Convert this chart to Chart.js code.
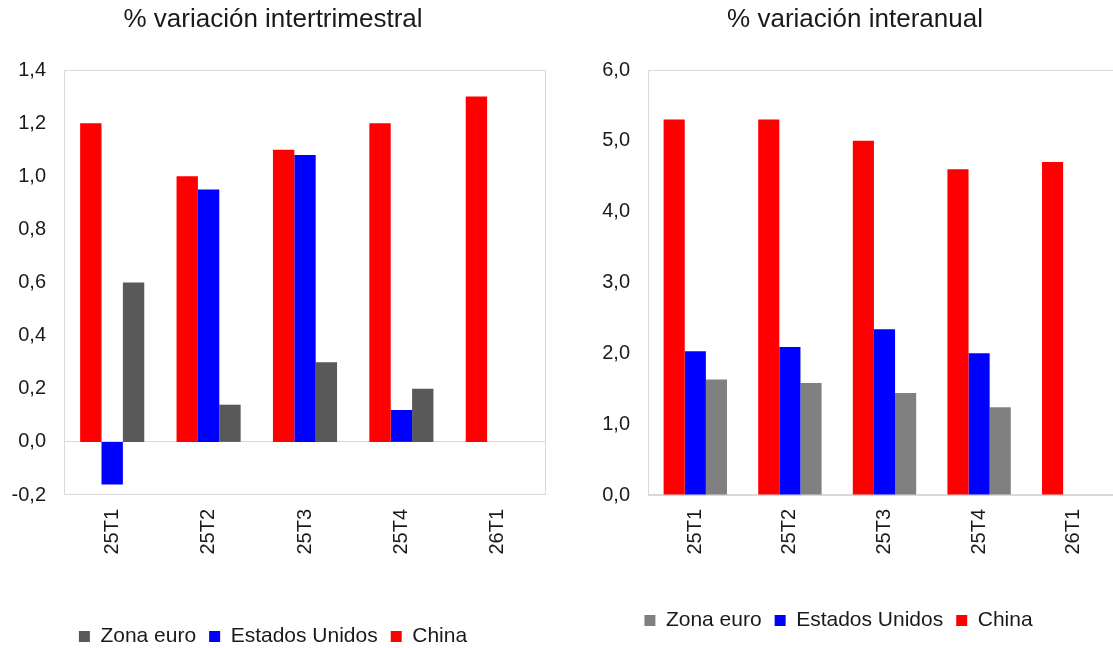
<!DOCTYPE html>
<html lang="es">
<head>
<meta charset="utf-8">
<title>Crecimiento del PIB</title>
<script src="https://cdn.jsdelivr.net/npm/chart.js@4.4.1/dist/chart.umd.min.js"></script>
<style>
  html, body { margin: 0; padding: 0; background: #ffffff; overflow: hidden; }
  body { position: relative; width: 1113px; height: 648px; }
  canvas { position: absolute; top: 0; }
  #qoq { left: 0; }
  #yoy { left: 556px; }
</style>
</head>
<body>
<canvas id="qoq" width="556" height="648"></canvas>
<canvas id="yoy" width="570" height="648"></canvas>
<script>
// Trimestres
const categories = ['25T1', '25T2', '25T3', '25T4', '26T1'];

// % variación intertrimestral
const qoqChina = [1.2, 1.0, 1.1, 1.2, 1.3];
const qoqUS    = [-0.16, 0.95, 1.08, 0.12, null];
const qoqEuro  = [0.6, 0.14, 0.3, 0.2, null];

// % variación interanual
const yoyChina = [5.3, 5.3, 5.0, 4.6, 4.7];
const yoyUS    = [2.03, 2.09, 2.34, 2.0, null];
const yoyEuro  = [1.63, 1.58, 1.44, 1.24, null];

const FONT = "'Liberation Sans', Arial, sans-serif";
const TEXT = '#1a1a1a';
const FRAME = '#d9d9d9';

Chart.defaults.font.family = FONT;
Chart.defaults.color = TEXT;

const fmt = v => (Math.abs(v) < 1e-9 ? 0 : v).toFixed(1).replace('.', ',');

// Draws the plot frame and fine-tunes title / legend placement after layout
const frameAndNudge = {
  id: 'frameAndNudge',
  afterLayout(chart, args, opts) {
    if (opts.titleDx && chart.titleBlock) {
      chart.titleBlock.left += opts.titleDx;
      chart.titleBlock.right += opts.titleDx;
    }
    if (opts.legendDy && chart.legend) {
      chart.legend.top += opts.legendDy;
      chart.legend.bottom += opts.legendDy;
    }
  },
  beforeDatasetsDraw(chart, args, opts) {
    const { ctx, chartArea: a } = chart;
    ctx.save();
    ctx.strokeStyle = opts.color || FRAME;
    ctx.lineWidth = 1;
    ctx.strokeRect(a.left + 0.5, a.top + 0.5, a.right - a.left - 1, a.bottom - a.top - 1);
    ctx.restore();
  }
};

function makeChart(id, cfg) {
  return new Chart(document.getElementById(id), {
    type: 'bar',
    data: {
      labels: categories,
      datasets: [
        { label: 'China', data: cfg.china, backgroundColor: '#ff0000' },
        { label: 'Estados Unidos', data: cfg.us, backgroundColor: '#0000ff' },
        { label: 'Zona euro', data: cfg.euro, backgroundColor: cfg.euroColor }
      ]
    },
    options: {
      responsive: false,
      animation: false,
      devicePixelRatio: 1,
      categoryPercentage: cfg.catPct,
      barPercentage: 1,
      layout: { padding: { left: 0, right: cfg.padRight, top: 0, bottom: 0 } },
      plugins: {
        tooltip: { enabled: false },
        title: {
          display: true,
          text: cfg.title,
          color: TEXT,
          font: { family: FONT, size: 26, weight: 'normal', lineHeight: 1.2 },
          padding: { top: 4, bottom: 34.8 }
        },
        legend: {
          display: true,
          position: 'bottom',
          reverse: true,
          labels: {
            color: TEXT,
            boxWidth: 11,
            boxHeight: 11,
            padding: 13,
            font: { family: FONT, size: 21 }
          }
        },
        frameAndNudge: { color: FRAME, titleDx: cfg.titleDx, legendDy: cfg.legendDy }
      },
      scales: {
        x: {
          grid: { display: false, drawTicks: false },
          border: { display: false },
          ticks: {
            autoSkip: false,
            minRotation: 90,
            maxRotation: 90,
            padding: 14,
            color: TEXT,
            font: { family: FONT, size: 20 }
          },
          afterFit(scale) { scale.height = 109; }
        },
        y: {
          min: cfg.min,
          max: cfg.max,
          grid: {
            display: true,
            drawTicks: false,
            color: c => (c.tick && Math.abs(c.tick.value) < 1e-9) ? FRAME : 'rgba(0,0,0,0)'
          },
          border: { display: false },
          ticks: {
            stepSize: cfg.step,
            padding: 18,
            color: TEXT,
            font: { family: FONT, size: 20 },
            callback: v => fmt(v)
          },
          afterFit(scale) { scale.width = cfg.yWidth; }
        }
      }
    },
    plugins: [frameAndNudge]
  });
}

makeChart('qoq', {
  title: '% variación intertrimestral',
  china: qoqChina, us: qoqUS, euro: qoqEuro,
  euroColor: '#595959',
  min: -0.2, max: 1.4, step: 0.2,
  yWidth: 64, padRight: 10, catPct: 0.665,
  titleDx: 0, legendDy: 9
});

makeChart('yoy', {
  title: '% variación interanual',
  china: yoyChina, us: yoyUS, euro: yoyEuro,
  euroColor: '#808080',
  min: 0, max: 6, step: 1,
  yWidth: 92, padRight: 5, catPct: 0.67,
  titleDx: 16.5, legendDy: -7
});
</script>
</body>
</html>
